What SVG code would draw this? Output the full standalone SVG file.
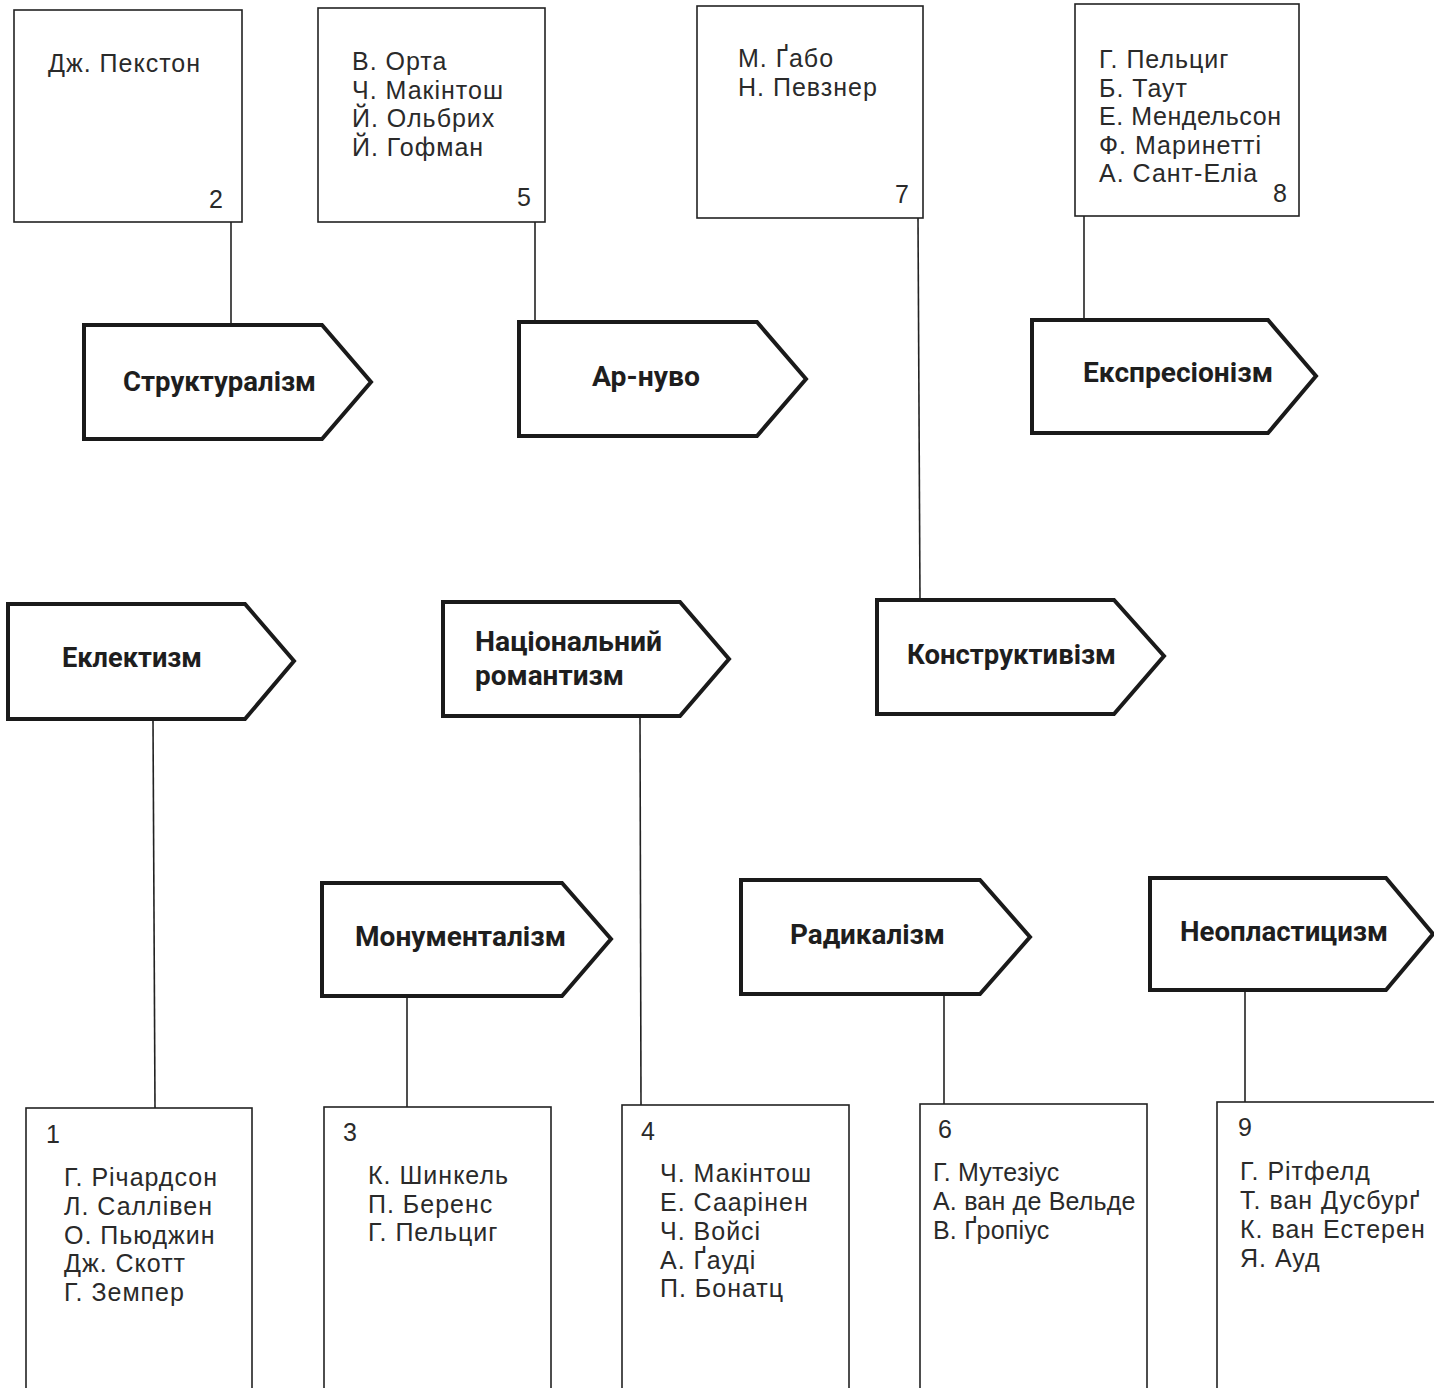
<svg xmlns="http://www.w3.org/2000/svg" width="1434" height="1388" viewBox="0 0 1434 1388">
<style>
.box{fill:#fff;stroke:#222;stroke-width:1.6}
.arr{fill:#fff;stroke:#1a1a1a;stroke-width:4;stroke-linejoin:miter}
.con{stroke:#222;stroke-width:1.6;fill:none}
.nm{font-family:"Liberation Sans",Arial,sans-serif;font-size:25px;letter-spacing:1px;fill:#2a2a2a}
.nc{letter-spacing:0.2px}
.lb{font-family:Roboto,"Liberation Sans",sans-serif;font-weight:bold;font-size:28px;fill:#1e1e1e}
</style>
<rect width="1434" height="1388" fill="#fff"/>
<g id="connectors">
<line class="con" x1="231" y1="222" x2="231" y2="325"/>
<line class="con" x1="535" y1="222" x2="535" y2="322"/>
<line class="con" x1="918" y1="218" x2="920" y2="600"/>
<line class="con" x1="1084" y1="216" x2="1084" y2="320"/>
<line class="con" x1="153" y1="720" x2="155" y2="1108"/>
<line class="con" x1="640" y1="716" x2="641" y2="1105"/>
<line class="con" x1="407" y1="996" x2="407" y2="1107"/>
<line class="con" x1="944" y1="994" x2="944" y2="1104"/>
<line class="con" x1="1245" y1="990" x2="1245" y2="1102"/>
</g>
<g id="box2"><rect class="box" x="14" y="10" width="228" height="212"/>
<text class="nm" x="48" y="72">Дж. Пекстон</text><text class="nm" x="209" y="208">2</text></g>
<g id="box5"><rect class="box" x="318" y="8" width="227" height="214"/>
<text class="nm" x="352" y="70">В. Орта</text><text class="nm" x="352" y="99">Ч. Макінтош</text><text class="nm" x="352" y="127">Й. Ольбрих</text><text class="nm" x="352" y="156">Й. Гофман</text><text class="nm" x="517" y="206">5</text></g>
<g id="box7"><rect class="box" x="697" y="6" width="226" height="212"/>
<text class="nm" x="738" y="67">М. Ґабо</text><text class="nm" x="738" y="96">Н. Певзнер</text><text class="nm" x="895" y="203">7</text></g>
<g id="box8"><rect class="box" x="1075" y="4" width="224" height="212"/>
<text class="nm" x="1099" y="68">Г. Пельциг</text><text class="nm" x="1099" y="97">Б. Таут</text><text class="nm" x="1099" y="125" textLength="183">Е. Мендельсон</text><text class="nm" x="1099" y="154">Ф. Маринетті</text><text class="nm" x="1099" y="182">А. Сант-Еліа</text><text class="nm" x="1273" y="202">8</text></g>
<g id="structuralism"><polygon class="arr" points="84,325 322,325 371,382 322,439 84,439"/><text class="lb" x="123" y="391" textLength="193" lengthAdjust="spacingAndGlyphs">Структуралізм</text></g>
<g id="arnuvo"><polygon class="arr" points="519,322 757,322 806,379 757,436 519,436"/><text class="lb" x="592" y="386" textLength="108" lengthAdjust="spacingAndGlyphs">Ар-нуво</text></g>
<g id="expressionism"><polygon class="arr" points="1032,320 1268,320 1316,376 1268,433 1032,433"/><text class="lb" x="1083" y="382" textLength="190" lengthAdjust="spacingAndGlyphs">Експресіонізм</text></g>
<g id="eclecticism"><polygon class="arr" points="8,604 245,604 294,661 245,719 8,719"/><text class="lb" x="62" y="667" textLength="140" lengthAdjust="spacingAndGlyphs">Еклектизм</text></g>
<g id="national"><polygon class="arr" points="443,602 680,602 729,659 680,716 443,716"/><text class="lb" x="475" y="651" textLength="187" lengthAdjust="spacingAndGlyphs">Національний</text><text class="lb" x="475" y="685" textLength="149" lengthAdjust="spacingAndGlyphs">романтизм</text></g>
<g id="constructivism"><polygon class="arr" points="877,600 1114,600 1164,656 1114,714 877,714"/><text class="lb" x="907" y="664" textLength="209" lengthAdjust="spacingAndGlyphs">Конструктивізм</text></g>
<g id="monumentalism"><polygon class="arr" points="322,883 562,883 611,939 562,996 322,996"/><text class="lb" x="355" y="946" textLength="211" lengthAdjust="spacingAndGlyphs">Монументалізм</text></g>
<g id="radicalism"><polygon class="arr" points="741,880 980,880 1030,937 980,994 741,994"/><text class="lb" x="790" y="944" textLength="155" lengthAdjust="spacingAndGlyphs">Радикалізм</text></g>
<g id="neoplasticism"><polygon class="arr" points="1150,878 1386,878 1433,934 1386,990 1150,990"/><text class="lb" x="1180" y="941" textLength="208" lengthAdjust="spacingAndGlyphs">Неопластицизм</text></g>
<g id="box1"><rect class="box" x="26" y="1108" width="226" height="300"/>
<text class="nm" x="46" y="1143">1</text><text class="nm" x="64" y="1186">Г. Річардсон</text><text class="nm" x="64" y="1215">Л. Саллівен</text><text class="nm" x="64" y="1244">О. Пьюджин</text><text class="nm" x="64" y="1272">Дж. Скотт</text><text class="nm" x="64" y="1301">Г. Земпер</text></g>
<g id="box3"><rect class="box" x="324" y="1107" width="227" height="300"/>
<text class="nm" x="343" y="1141">3</text><text class="nm" x="368" y="1184">К. Шинкель</text><text class="nm" x="368" y="1213">П. Беренс</text><text class="nm" x="368" y="1241">Г. Пельциг</text></g>
<g id="box4"><rect class="box" x="622" y="1105" width="227" height="300"/>
<text class="nm" x="641" y="1140">4</text><text class="nm" x="660" y="1182">Ч. Макінтош</text><text class="nm" x="660" y="1211">Е. Саарінен</text><text class="nm" x="660" y="1240">Ч. Войсі</text><text class="nm" x="660" y="1269">А. Ґауді</text><text class="nm" x="660" y="1297">П. Бонатц</text></g>
<g id="box6"><rect class="box" x="920" y="1104" width="227" height="300"/>
<text class="nm" x="938" y="1138">6</text><text class="nm nc" x="933" y="1181">Г. Мутезіус</text><text class="nm nc" x="933" y="1210">А. ван де Вельде</text><text class="nm nc" x="933" y="1239">В. Ґропіус</text></g>
<g id="box9"><rect class="box" x="1217" y="1102" width="230" height="300"/>
<text class="nm" x="1238" y="1136">9</text><text class="nm" x="1240" y="1180">Г. Рітфелд</text><text class="nm" x="1240" y="1209">Т. ван Дусбурґ</text><text class="nm" x="1240" y="1238">К. ван Естерен</text><text class="nm" x="1240" y="1267">Я. Ауд</text></g>
</svg>
